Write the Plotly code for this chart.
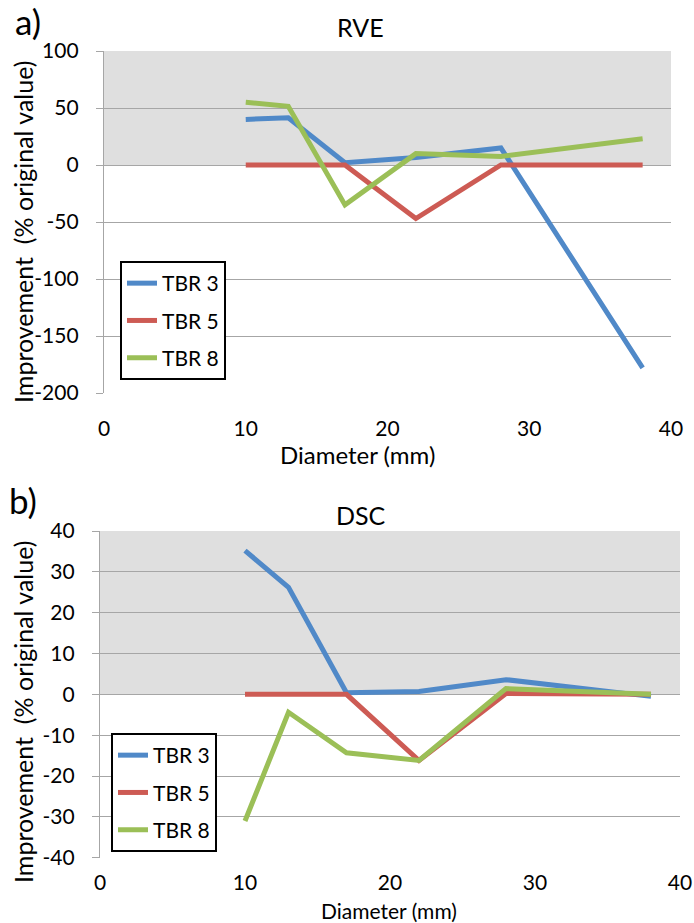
import plotly.graph_objects as go

# ---------------- data ----------------
diameter_mm = [10, 13, 17, 22, 28, 38]
series_names = ["TBR 3", "TBR 5", "TBR 8"]

rve_tbr3 = [40, 41.5, 2, 6.5, 15, -178]
rve_tbr5 = [0, 0, 0, -47, 0, 0]
rve_tbr8 = [55, 51.5, -35, 10, 7.5, 23]

dsc_tbr3 = [35.2, 26.2, 0.4, 0.7, 3.6, -0.5]
dsc_tbr5 = [0, 0, 0, -16.2, 0.2, 0]
dsc_tbr8 = [-31, -4.4, -14.3, -16.2, 1.4, 0]

x_ticks = [0, 10, 20, 30, 40]
rve_yticks = [-200, -150, -100, -50, 0, 50, 100]
dsc_yticks = [-40, -30, -20, -10, 0, 10, 20, 30, 40]

# ---------------- style ----------------
W, H = 694, 923
FONT = "Lato"
colors = ["#5089C8", "#CD5B54", "#9BBF57"]
GRID = "#a6a6a6"
SHADE = "#dfdfdf"


def px(p):
    return p / W


def py(p):
    return 1 - p / H


top_xdom = [px(104), px(671)]
top_ydom = [py(393), py(51)]
bot_xdom = [px(100), px(680)]
bot_ydom = [py(857.7), py(531)]

rve_range = [-200, 100]
dsc_range = [-40, 40]


def zero_pos(dom, rng):
    return dom[0] + (0 - rng[0]) / (rng[1] - rng[0]) * (dom[1] - dom[0])


fig = go.Figure()

for name, vals, c in zip(series_names, [rve_tbr3, rve_tbr5, rve_tbr8], colors):
    fig.add_trace(go.Scatter(x=diameter_mm, y=vals, mode="lines", name=name,
                             line=dict(color=c, width=5), xaxis="x", yaxis="y",
                             legend="legend", legendgroup="a" + name))
for name, vals, c in zip(series_names, [dsc_tbr3, dsc_tbr5, dsc_tbr8], colors):
    fig.add_trace(go.Scatter(x=diameter_mm, y=vals, mode="lines", name=name,
                             line=dict(color=c, width=5), xaxis="x2", yaxis="y2",
                             legend="legend2", legendgroup="b" + name))

tickfont = dict(family=FONT, size=21, color="black")

xcommon = dict(range=[0, 40], tickvals=x_ticks, ticktext=[str(v) for v in x_ticks],
               showgrid=False, zeroline=False, automargin=False,
               showline=False, ticks="", tickfont=tickfont)
zcommon = dict(range=[0, 40], tickvals=x_ticks, showgrid=False, zeroline=False,
               showline=True, linecolor=GRID, linewidth=1.3, ticks="outside",
               ticklen=7, tickcolor=GRID, tickwidth=1.3, showticklabels=False,
               anchor="free", side="bottom", automargin=False)
ycommon = dict(showgrid=True, gridcolor=GRID, gridwidth=1.3, zeroline=False,
               showline=True, linecolor=GRID, linewidth=1.3, ticks="outside",
               ticklen=7, tickcolor=GRID, tickwidth=1.3, tickfont=tickfont,
               ticklabelstandoff=13, automargin=False)

fig.update_layout(
    width=W, height=H,
    margin=dict(l=0, r=0, t=0, b=0, autoexpand=False),
    paper_bgcolor="white", plot_bgcolor="white",
    font=dict(family=FONT, color="black"),
    xaxis=dict(domain=top_xdom, anchor="y", ticklabelstandoff=21, **xcommon),
    yaxis=dict(domain=top_ydom, anchor="x", range=rve_range, tickvals=rve_yticks,
               ticktext=[str(v) for v in rve_yticks], **ycommon),
    xaxis2=dict(domain=bot_xdom, anchor="y2", ticklabelstandoff=10, **xcommon),
    yaxis2=dict(domain=bot_ydom, anchor="x2", range=dsc_range, tickvals=dsc_yticks,
                ticktext=[str(v) for v in dsc_yticks], **ycommon),
    xaxis3=dict(overlaying="x", position=zero_pos(top_ydom, rve_range), **zcommon),
    xaxis4=dict(overlaying="x2", position=zero_pos(bot_ydom, dsc_range), **zcommon),
    legend=dict(x=px(120), y=py(261), xanchor="left", yanchor="top",
                bordercolor="black", borderwidth=2, bgcolor="white",
                font=dict(family=FONT, size=21), traceorder="grouped",
                tracegroupgap=7),
    legend2=dict(x=px(111), y=py(733), xanchor="left", yanchor="top",
                 bordercolor="black", borderwidth=2, bgcolor="white",
                 font=dict(family=FONT, size=21), traceorder="grouped",
                 tracegroupgap=7),
    showlegend=True,
)

fig.add_shape(type="rect", xref="x domain", yref="y", x0=0, x1=1, y0=0, y1=rve_range[1],
              fillcolor=SHADE, line=dict(width=0), layer="below")
fig.add_shape(type="rect", xref="x2 domain", yref="y2", x0=0, x1=1, y0=0, y1=dsc_range[1],
              fillcolor=SHADE, line=dict(width=0), layer="below")

ann = [
    dict(text="a)", x=px(28), y=py(21), size=35),
    dict(text="b)", x=px(23), y=py(500), size=35),
    dict(text="RVE", x=px(360), y=py(27), size=25),
    dict(text="DSC", x=px(361), y=py(515), size=25),
    dict(text="Diameter (mm)", x=px(358), y=py(454), size=24),
    dict(text="Diameter (mm)", x=px(389), y=py(910), size=21),
]
for a in ann:
    fig.add_annotation(text=a["text"], x=a["x"], y=a["y"], xref="paper", yref="paper",
                       showarrow=False, xanchor="center", yanchor="middle",
                       font=dict(family=FONT, size=a["size"], color="black"))

for yc in [232, 712]:
    fig.add_annotation(text="Improvement  (% original value)", x=px(23), y=py(yc),
                       xref="paper", yref="paper", showarrow=False, textangle=-90,
                       xanchor="center", yanchor="middle",
                       font=dict(family=FONT, size=25, color="black"))

fig.write_html("out.html")
